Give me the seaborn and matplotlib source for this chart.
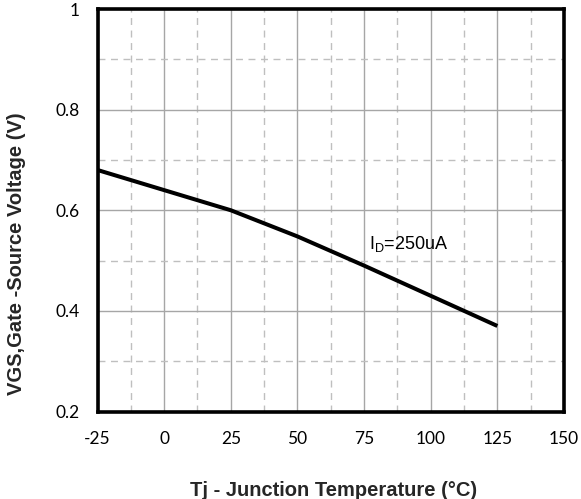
import numpy as np
import pandas as pd
import matplotlib
matplotlib.use("Agg")
import matplotlib.pyplot as plt
import seaborn as sns
from matplotlib.ticker import MultipleLocator

# data
temp_c = [-25, 0, 25, 50, 75, 100, 125]
vgs_v = [0.68, 0.64, 0.60, 0.548, 0.49, 0.43, 0.37]
x_ticks = [-25, 0, 25, 50, 75, 100, 125, 150]
y_ticks = [0.2, 0.4, 0.6, 0.8, 1.0]
y_tick_labels = ["0.2", "0.4", "0.6", "0.8", "1"]

df = pd.DataFrame({"Tj": temp_c, "VGS": vgs_v})

sns.set_theme(style="white")
plt.rcParams['font.family'] = ['Lato', 'DejaVu Sans']
plt.rcParams['axes.unicode_minus'] = False

fig = plt.figure(figsize=(5.81, 4.99), dpi=100)
ax = fig.add_axes([97.5 / 581, 1 - 411.5 / 499, (564 - 97.5) / 581, (411.5 - 9) / 499])

sns.lineplot(data=df, x="Tj", y="VGS", ax=ax, color="black", linewidth=2.9,
             solid_capstyle="butt", zorder=5)

ax.set_xlim(-25, 150)
ax.set_ylim(0.2, 1.0)
ax.set_xticks(x_ticks)
ax.set_yticks(y_ticks)
ax.set_yticklabels(y_tick_labels)
ax.xaxis.set_minor_locator(MultipleLocator(12.5))
ax.yaxis.set_minor_locator(MultipleLocator(0.1))

ax.grid(which="major", color="#a6a6a6", linewidth=1.0, linestyle="-")
ax.grid(which="minor", color="#bfbfbf", linewidth=1.0, linestyle=(0, (5, 4)))
ax.set_axisbelow(True)

for s in ax.spines.values():
    s.set_visible(True)
    s.set_color("black")
    s.set_linewidth(2.6)

ax.tick_params(axis="both", which="both", length=0, labelsize=12.5, colors="black")
ax.tick_params(axis="x", pad=14)
ax.tick_params(axis="y", pad=13)

lab_font = ["Liberation Sans", "DejaVu Sans"]
ax.set_xlabel("Tj - Junction Temperature (°C)", fontsize=14.5, fontweight="bold", family=lab_font)
ax.set_ylabel("VGS,Gate -Source Voltage (V)", fontsize=14.5, fontweight="bold", family=lab_font)
ax.xaxis.set_label_coords((333.5 - 97.5) / 466.5, -(490 - 411.5) / 402.5)
ax.xaxis.label.set_va("center")
ax.yaxis.set_label_coords(-(97.5 - 16.5) / 466.5, (411.5 - 253.5) / 402.5)
ax.yaxis.label.set_va("center")

ax.text(77, 0.533, "I$_\\mathregular{D}$=250uA", fontsize=13, ha="left", va="center",
        family=lab_font, color="black")

fig.savefig("out.png", dpi=100)
